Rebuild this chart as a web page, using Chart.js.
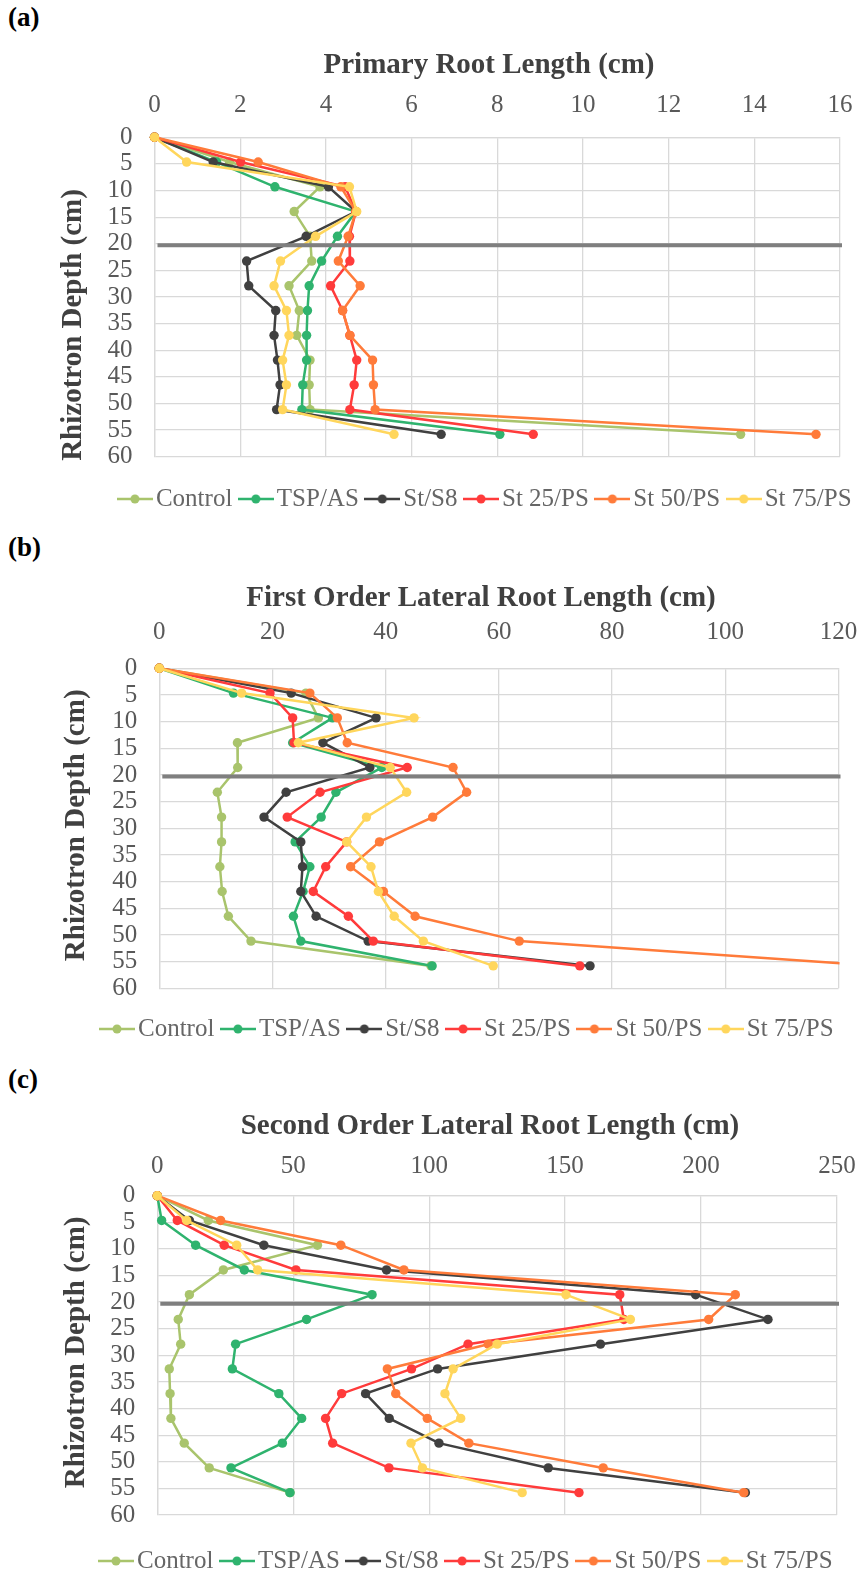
<!DOCTYPE html>
<html>
<head>
<meta charset="utf-8">
<title>Root length by rhizotron depth</title>
<script src="https://cdn.jsdelivr.net/npm/chart.js@4.4.1/dist/chart.umd.min.js"></script>
<style>
  html, body { margin: 0; padding: 0; background: #fff; }
  body { width: 859px; height: 1572px; position: relative; overflow: hidden; }
  canvas { position: absolute; left: 0; }
  .tag { position: absolute; left: 8px; font: bold 27px "Liberation Serif", "Times New Roman", serif; color: #000; line-height: 1; }
</style>
</head>
<body>
<div class="tag" style="top:4px">(a)</div>
<div class="tag" style="top:534px">(b)</div>
<div class="tag" style="top:1066px">(c)</div>
<canvas id="chartPrimary" width="900" height="530" style="top:0"></canvas>
<canvas id="chartFirst" width="900" height="530" style="top:530px"></canvas>
<canvas id="chartSecond" width="900" height="530" style="top:1060px"></canvas>

<script>
// ---------- data ----------
const SERIES = ["Control", "TSP/AS", "St/S8", "St 25/PS", "St 50/PS", "St 75/PS"];
const DEPTHS = [0, 4.65, 9.3, 13.95, 18.6, 23.25, 27.9, 32.55, 37.2, 41.85, 46.5, 51.15, 55.8];
const BOUNDARY_DEPTH = 20.3;

// primary root length (cm)
const PRIMARY_CONTROL = [0, 1.75, 3.86, 3.26, 3.63, 3.67, 3.14, 3.38, 3.32, 3.63, 3.61, 3.63, 13.68];
const PRIMARY_TSP     = [0, 1.45, 2.81, 4.70, 4.27, 3.90, 3.61, 3.57, 3.55, 3.55, 3.46, 3.44, 8.06];
const PRIMARY_S8      = [0, 1.37, 4.06, 4.70, 3.54, 2.15, 2.20, 2.83, 2.79, 2.87, 2.93, 2.85, 6.69];
const PRIMARY_ST25    = [0, 2.01, 4.45, 4.70, 4.55, 4.56, 4.11, 4.39, 4.56, 4.72, 4.66, 4.56, 8.84];
const PRIMARY_ST50    = [0, 2.42, 4.35, 4.70, 4.52, 4.29, 4.80, 4.39, 4.56, 5.09, 5.11, 5.15, 15.44];
const PRIMARY_ST75    = [0, 0.75, 4.55, 4.72, 3.76, 2.94, 2.79, 3.08, 3.14, 2.99, 3.08, 2.99, 5.59];

// first order lateral root length (cm)
const FIRST_CONTROL = [0, 25.9, 28.1, 13.8, 13.85, 10.25, 11.0, 11.0, 10.7, 11.1, 12.2, 16.2, 48.0];
const FIRST_TSP     = [0, 13.1, 30.6, 23.56, 39.3, 31.2, 28.6, 24.0, 26.6, 25.4, 23.7, 25.0, 48.2];
const FIRST_S8      = [0, 23.3, 38.3, 28.9, 37.2, 22.4, 18.5, 25.0, 25.3, 25.0, 27.7, 36.9, 76.1];
const FIRST_ST25    = [0, 19.56, 23.56, 23.8, 43.8, 28.4, 22.6, 33.1, 29.4, 27.2, 33.4, 37.8, 74.3];
const FIRST_ST50    = [0, 26.6, 31.45, 33.2, 51.9, 54.3, 48.3, 38.9, 33.8, 39.6, 45.2, 63.6, 127.0];
const FIRST_ST75    = [0, 14.55, 45.0, 24.56, 40.8, 43.7, 36.6, 33.1, 37.4, 38.7, 41.5, 46.65, 59.0];

// second order lateral root length (cm)
const SECOND_CONTROL = [0, 18.75, 58.9, 24.3, 11.8, 7.7, 8.6, 4.4, 4.7, 5.0, 9.9, 19.1, 48.8];
const SECOND_TSP     = [0, 1.6, 14.1, 32.0, 79.0, 54.9, 28.8, 27.6, 44.7, 53.1, 46.0, 27.1, 48.8];
const SECOND_S8      = [0, 11.8, 39.2, 84.3, 198.0, 224.6, 163.0, 103.1, 76.6, 85.3, 103.6, 143.8, 216.3];
const SECOND_ST25    = [0, 7.35, 24.6, 51.0, 170.1, 171.6, 114.3, 93.5, 67.8, 61.9, 64.5, 85.2, 155.1];
const SECOND_ST50    = [0, 23.3, 67.5, 90.7, 212.6, 202.8, 121.7, 84.6, 87.7, 99.3, 114.6, 164.0, 215.7];
const SECOND_ST75    = [0, 10.8, 29.2, 36.9, 150.3, 174.0, 125.0, 108.8, 105.8, 111.6, 93.3, 97.5, 134.2];

// ---------- styling ----------
const COLORS = ["#A9C46C", "#2FB36E", "#404040", "#FF3B3B", "#FF7B3A", "#FFD65C"];
const SERIF = '"Liberation Serif", "Times New Roman", serif';
const GRID = "#d9d9d9";
const TEXT = "#595959";
const HEAD = "#404040";

// line + dot swatch used in the legend
function legendMarker(color) {
  const c = document.createElement("canvas");
  c.width = 36;
  c.height = 12;
  const g = c.getContext("2d");
  g.strokeStyle = color;
  g.lineWidth = 2.5;
  g.beginPath();
  g.moveTo(0, 6);
  g.lineTo(36, 6);
  g.stroke();
  g.fillStyle = color;
  g.beginPath();
  g.arc(18, 6, 4.5, 0, Math.PI * 2);
  g.fill();
  return c;
}
const MARKERS = COLORS.map(legendMarker);

// thick grey rule across the plot at the boundary depth
const depthLine = {
  id: "depthLine",
  afterDatasetsDraw(chart, args, opts) {
    const { ctx, chartArea, scales } = chart;
    const py = scales.y.getPixelForValue(opts.depth);
    ctx.save();
    ctx.strokeStyle = "#7f7f7f";
    ctx.lineWidth = 4;
    ctx.beginPath();
    ctx.moveTo(chartArea.left + 3, py);
    ctx.lineTo(chartArea.right + opts.overhang, py);
    ctx.stroke();
    ctx.restore();
  }
};

// rotated caption on the left of the depth axis
const sideCaption = {
  id: "sideCaption",
  afterDraw(chart, args, opts) {
    const { ctx, chartArea } = chart;
    ctx.save();
    ctx.translate(opts.x, (chartArea.top + chartArea.bottom) / 2 + opts.shift);
    ctx.rotate(-Math.PI / 2);
    ctx.font = "bold 29px " + SERIF;
    ctx.fillStyle = HEAD;
    ctx.textAlign = "center";
    ctx.textBaseline = "middle";
    ctx.fillText(opts.text, 0, 0);
    ctx.restore();
  }
};

function buildPanel(canvasId, p) {
  const canvas = document.getElementById(canvasId);
  return new Chart(canvas, {
    type: "scatter",
    data: {
      datasets: SERIES.map((name, i) => ({
        label: name,
        data: DEPTHS.map((d, k) => ({ x: p.values[i][k], y: d })),
        xAxisID: "x",
        yAxisID: "y",
        showLine: true,
        borderColor: COLORS[i],
        backgroundColor: COLORS[i],
        borderWidth: 2.5,
        pointRadius: 4.7,
        pointBorderWidth: 0,
        order: SERIES.length - i,
        clip: { left: 10, top: 10, right: 1, bottom: 10 }
      }))
    },
    options: {
      responsive: false,
      animation: false,
      devicePixelRatio: 1,
      layout: {
        padding: { left: p.padLeft, right: canvas.width - p.right - p.gutter, top: 0, bottom: p.padBottom }
      },
      plugins: {
        title: {
          display: true,
          text: p.title,
          color: HEAD,
          font: { family: SERIF, size: 29, weight: "bold" },
          padding: { top: p.titleTop, bottom: 0 }
        },
        legend: {
          position: "bottom",
          align: p.legendAlign,
          title: { display: true, text: "", font: { size: 1 }, padding: { top: p.legendGap - 1.2, bottom: 0 } },
          labels: {
            usePointStyle: true,
            pointStyleWidth: 17,
            padding: 15,
            color: HEAD,
            font: { family: SERIF, size: 25 },
            generateLabels: (chart) => chart.data.datasets.map((ds, i) => ({
              text: ds.label,
              pointStyle: MARKERS[i],
              fillStyle: ds.borderColor,
              strokeStyle: ds.borderColor,
              lineWidth: 0,
              hidden: false,
              datasetIndex: i
            }))
          }
        },
        tooltip: { enabled: false },
        depthLine: { depth: BOUNDARY_DEPTH, overhang: p.overhang },
        sideCaption: { text: "Rhizotron Depth (cm)", x: p.captionX, shift: p.captionShift }
      },
      scales: {
        x: {
          type: "linear",
          position: "top",
          min: 0,
          max: p.xMax,
          afterFit: (s) => { s.height = p.xAxisHeight; },
          ticks: { stepSize: p.xStep, autoSkip: false, maxRotation: 0, padding: p.tickGap, color: TEXT, font: { family: SERIF, size: 25 } },
          grid: { color: GRID, lineWidth: 1.3, drawTicks: false },
          border: { color: GRID, width: 1.3 }
        },
        y: {
          type: "linear",
          position: "left",
          reverse: true,
          min: 0,
          max: 60,
          afterFit: (s) => { s.width = p.left - p.padLeft; },
          ticks: { stepSize: 5, autoSkip: false, padding: 22, color: TEXT, font: { family: SERIF, size: 25 } },
          grid: { color: GRID, lineWidth: 1.3, drawTicks: false },
          border: { color: GRID, width: 1.3 }
        },
        // empty strip right of the plot, so title and legend can run past it
        gutter: {
          type: "linear",
          position: "right",
          min: 0,
          max: 1,
          afterFit: (s) => { s.width = p.gutter; },
          ticks: { display: false },
          grid: { display: false, drawTicks: false },
          border: { display: false }
        }
      }
    },
    plugins: [depthLine, sideCaption]
  });
}

// ---------- panels ----------
buildPanel("chartPrimary", {
  title: "Primary Root Length (cm)",
  values: [PRIMARY_CONTROL, PRIMARY_TSP, PRIMARY_S8, PRIMARY_ST25, PRIMARY_ST50, PRIMARY_ST75],
  xMax: 16, xStep: 2,
  padLeft: 90, left: 154.5, right: 840, gutter: 48,
  titleTop: 48.6, xAxisHeight: 53.9, tickGap: 17.3,
  legendAlign: "center", legendGap: 14.8, padBottom: 8.5,
  captionX: 73.5, captionShift: 28, overhang: 2
});

buildPanel("chartFirst", {
  title: "First Order Lateral Root Length (cm)",
  values: [FIRST_CONTROL, FIRST_TSP, FIRST_S8, FIRST_ST25, FIRST_ST50, FIRST_ST75],
  xMax: 120, xStep: 20,
  padLeft: 93.5, left: 159.3, right: 838.5, gutter: 30,
  titleTop: 51.6, xAxisHeight: 51.9, tickGap: 20.8,
  legendAlign: "start", legendGap: 13.2, padBottom: 8.5,
  captionX: 76.5, captionShift: -3, overhang: 2
});

buildPanel("chartSecond", {
  title: "Second Order Lateral Root Length (cm)",
  values: [SECOND_CONTROL, SECOND_TSP, SECOND_S8, SECOND_ST25, SECOND_ST50, SECOND_ST75],
  xMax: 250, xStep: 50,
  padLeft: 92.5, left: 157.3, right: 837, gutter: 50.5,
  titleTop: 49.6, xAxisHeight: 51.3, tickGap: 14.7,
  legendAlign: "start", legendGap: 18.5, padBottom: 6.5,
  captionX: 76.5, captionShift: -3, overhang: 2
});
</script>
</body>
</html>
